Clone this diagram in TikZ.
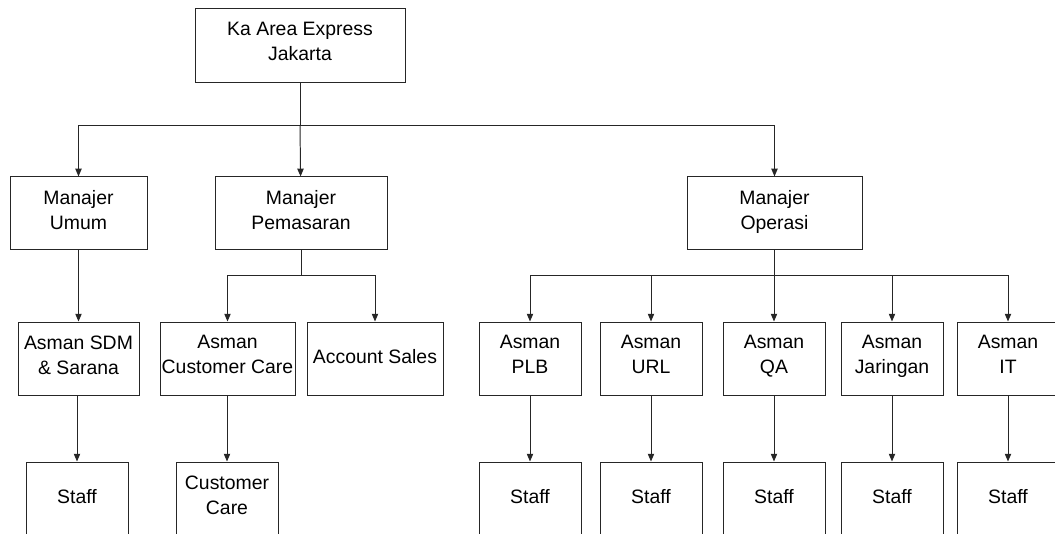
\documentclass[tikz,border=0pt]{standalone}
\usepackage{fontspec}
\setmainfont{Liberation Sans}
\usetikzlibrary{arrows.meta}
\begin{document}
\begin{tikzpicture}
	\tikzstyle{box} = [draw=black!85, line width=0.7pt, minimum height=1.825cm, inner xsep=1pt, inner ysep=0pt, align=center, font=\fontsize{13.8}{17.8}\selectfont, execute at begin node=\strut, execute at end node=\strut]
	\tikzstyle{small box} = [box, minimum width=2.55cm]
	\tikzstyle{link} = [-{Triangle[length=5.5pt,width=4.5pt]}, line width=0.7pt, draw=black!85]
	\tikzstyle{line} = [line width=0.7pt, draw=black!85]

	\useasboundingbox (0,0) rectangle (26.375,13.325);
	\clip (0,0) rectangle (26.375,13.325);

	% kepala area
	\node [box, minimum width=5.25cm, minimum height=1.85cm] (ka) at (7.5,12.2) {Ka Area Express\\Jakarta};
	\coordinate (bus1) at (7.5,10.2);

	% manajer
	\node [box, minimum width=3.425cm] (mu) at (1.9625,7.99) {Manajer\\Umum};
	\node [box, minimum width=4.3cm] (mp) at (7.525,7.99) {Manajer\\Pemasaran};
	\node [box, minimum width=4.375cm] (mo) at (19.3625,7.99) {Manajer\\Operasi};
	\draw [line] (ka) -- (bus1);
	\draw [link] (bus1) -| (mu);
	\draw [link] (bus1) -- (mp);
	\draw [link] (bus1) -| (mo);

	% asman
	\node [box, minimum width=3.025cm] (sdm) at (1.9625,4.3625) {Asman SDM\\\& Sarana};
	\node [box, minimum width=3.375cm] (cc) at (5.6875,4.3625) {Asman\\Customer Care};
	\node [box, minimum width=3.4cm] (as) at (9.375,4.3625) {Account Sales};
	\node [small box] (plb) at (13.25,4.3625) {Asman\\PLB};
	\node [small box] (url) at (16.275,4.3625) {Asman\\URL};
	\node [small box] (qa) at (19.35,4.3625) {Asman\\QA};
	\node [small box] (jar) at (22.3,4.3625) {Asman\\Jaringan};
	\node [small box] (it) at (25.2,4.3625) {Asman\\IT};

	\draw [link] (mu) -- (sdm);
	\coordinate (bus2) at (7.525,6.45);
	\draw [line] (mp) -- (bus2);
	\draw [link] (bus2) -| (cc);
	\draw [link] (bus2) -| (as);
	\coordinate (bus3) at (19.3625,6.45);
	\draw [line] (mo) -- (bus3);
	\foreach \n in {plb,url,qa,jar,it}
		\draw [link] (bus3) -| (\n);

	% staff
	\node [small box] (s1) at (1.925,0.8625) {Staff};
	\node [small box] (s2) at (5.675,0.8625) {Customer\\Care};
	\node [small box] (s3) at (13.25,0.8625) {Staff};
	\node [small box] (s4) at (16.275,0.8625) {Staff};
	\node [small box] (s5) at (19.35,0.8625) {Staff};
	\node [small box] (s6) at (22.3,0.8625) {Staff};
	\node [small box] (s7) at (25.2,0.8625) {Staff};
	\draw [link] (sdm.south -| s1) -- (s1);
	\draw [link] (cc.south -| s2) -- (s2);
	\draw [link] (plb) -- (s3);
	\draw [link] (url) -- (s4);
	\draw [link] (qa) -- (s5);
	\draw [link] (jar) -- (s6);
	\draw [link] (it) -- (s7);
\end{tikzpicture}
\end{document}
